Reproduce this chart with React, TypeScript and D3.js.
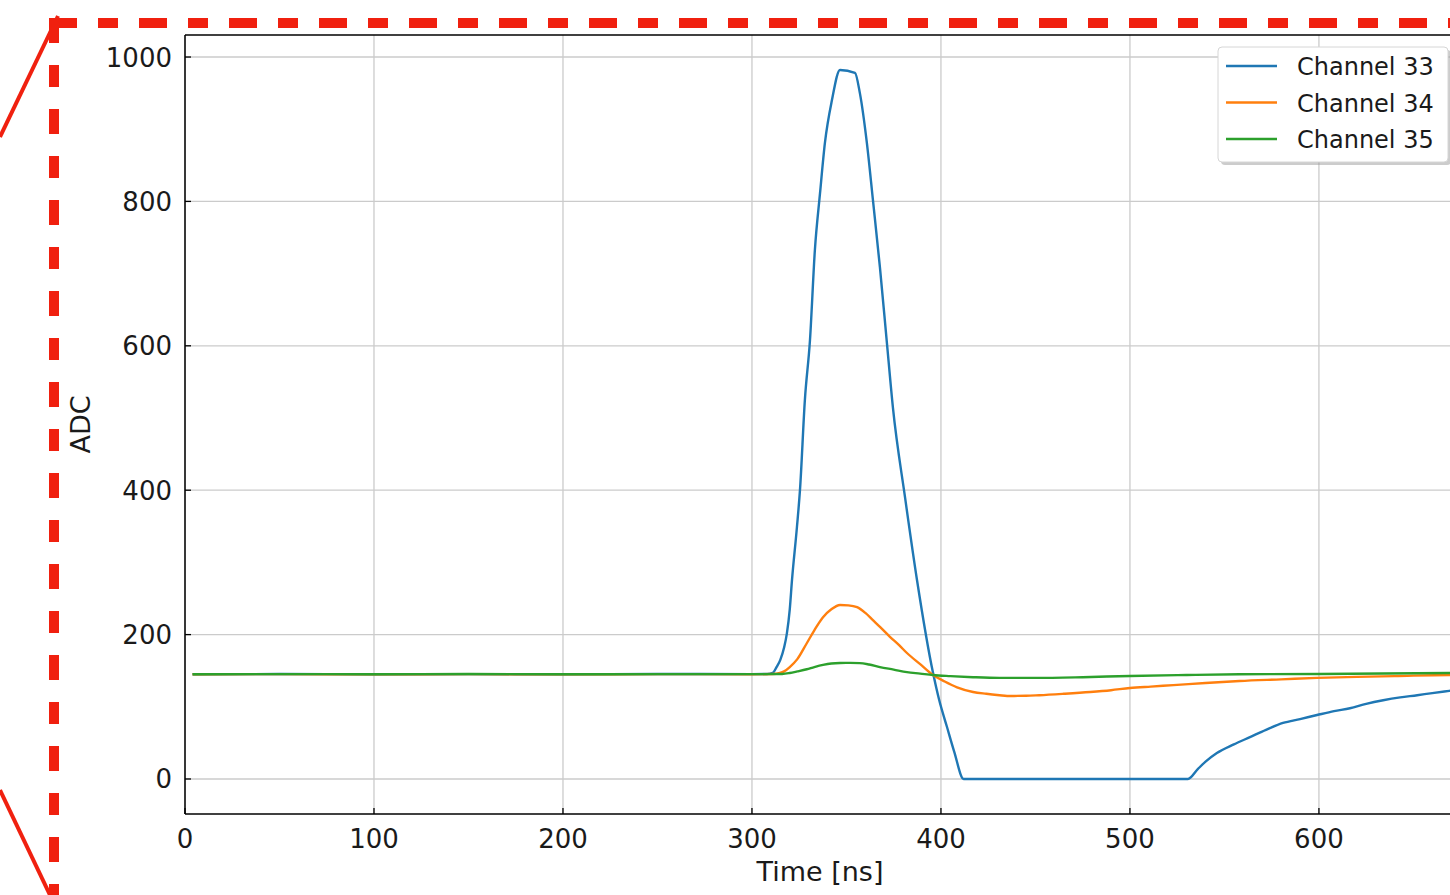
import React from 'react';
import * as d3 from 'd3';

// readings of the three waveforms, [time ns, ADC]
const channel33 = [
  [4, 145], [50, 145.4], [100, 145], [150, 145.3], [200, 145], [250, 145.4], [300, 145.2], [308, 145.5],
  [311, 147], [313, 155], [315, 165], [317, 182], [318.5, 202], [320, 235], [321.2, 276], [323.8, 349],
  [325.4, 400], [328, 525], [330.7, 608], [333.3, 733], [336, 811], [338.6, 881], [342.3, 940],
  [346.6, 982], [354.5, 978], [357.1, 950], [360.8, 881], [364, 802], [367.7, 709], [371.4, 604],
  [374.6, 514], [381, 390], [387.3, 276], [395.8, 147], [399, 110], [403.2, 72], [407, 38], [412, 0],
  [530.7, 0], [536, 14], [540, 24], [546, 36], [555, 48], [563.5, 58], [572, 68], [581, 77.6], [590, 83],
  [599, 88.6], [608, 94], [616.4, 98], [625, 104], [634, 109], [643, 113], [652, 116], [660, 119],
  [669, 122], [672, 123],
];

const channel34 = [
  [4, 145], [50, 145.3], [100, 145], [150, 145.2], [200, 145], [250, 145.3], [300, 145.1],
  [311, 145.4], [314.8, 146.8], [317, 149], [320, 155], [324, 166], [329, 188], [333, 206],
  [337.6, 224], [342, 235], [346.6, 241], [351, 240.5], [355.6, 238], [360, 230], [364, 220],
  [368, 210], [373, 197], [378, 185], [382, 174.5], [389, 159], [395.8, 144], [402, 135],
  [408.5, 127], [417, 120.5], [424, 118], [431, 116], [435, 115], [445, 115.2], [452, 116],
  [465, 118], [479, 120.5], [490, 123], [500, 126], [511, 128], [523, 130], [540, 133],
  [558, 135.7], [580, 138], [599, 140], [620, 141.5], [640, 142.5], [669, 144], [672, 144],
];

const channel35 = [
  [4, 145], [50, 145.3], [100, 145.1], [150, 145.4], [200, 145], [250, 145.3], [300, 145.2],
  [316, 145.5], [320, 146.8], [324, 149], [329, 152], [333, 155], [337.6, 158], [342, 160],
  [346.6, 160.7], [352, 160.8], [357, 160.5], [362, 158.5], [367.7, 155], [375, 151.5],
  [382, 148], [389, 146], [395.8, 144], [405, 142.5], [417, 141], [431, 140], [450, 140],
  [475, 141], [500, 142.7], [530, 144], [558, 145], [600, 145.5], [669, 146.8], [672, 147],
];

const seriesNames = ['Channel 33', 'Channel 34', 'Channel 35'];
const seriesData = [channel33, channel34, channel35];
const colors = ['#1f77b4', '#ff7f0e', '#2ca02c'];
const xTicks = [0, 100, 200, 300, 400, 500, 600];
const yTicks = [0, 200, 400, 600, 800, 1000];

const W = 1450;
const H = 895;
const left = 185;
const right = 1455;
const top = 35;
const bottom = 814;
const font = 'DejaVu Sans, sans-serif';
const red = '#f0200f';

export default function App() {
  const x = d3.scaleLinear().domain([0, 672]).range([left, right]);
  const y = d3.scaleLinear().domain([-48.5, 1030.5]).range([bottom, top]);
  const line = d3.line<number[]>()
    .curve(d3.curveMonotoneX)
    .x(d => x(d[0]))
    .y(d => y(d[1]));

  return (
    <svg width={W} height={H} style={{ position: 'absolute', left: 0, top: 0, display: 'block', background: '#fff' }}>
      <defs>
        <clipPath id="plot">
          <rect x={left} y={top} width={right - left} height={bottom - top} />
        </clipPath>
      </defs>

      {/* grid */}
      <g stroke="#cbcbcb" strokeWidth={1.3}>
        {xTicks.map(t => <line key={'gx' + t} x1={x(t)} x2={x(t)} y1={top} y2={bottom} />)}
        {yTicks.map(t => <line key={'gy' + t} x1={left} x2={right} y1={y(t)} y2={y(t)} />)}
      </g>

      {/* series */}
      <g clipPath="url(#plot)" fill="none" strokeWidth={2.4} strokeLinejoin="round">
        {seriesData.map((s, i) => <path key={i} d={line(s) || ''} stroke={colors[i]} />)}
      </g>

      {/* spines */}
      <g stroke="#000" strokeWidth={1.5} fill="none">
        <line x1={left} x2={left} y1={top} y2={bottom} />
        <line x1={left} x2={right} y1={bottom} y2={bottom} />
        <line x1={left} x2={right} y1={top} y2={top} />
      </g>

      {/* ticks */}
      <g stroke="#000" strokeWidth={1.3}>
        {xTicks.map(t => <line key={'tx' + t} x1={x(t)} x2={x(t)} y1={bottom} y2={bottom - 6} />)}
        {yTicks.map(t => <line key={'ty' + t} x1={left} x2={left + 6} y1={y(t)} y2={y(t)} />)}
      </g>

      <g fontFamily={font} fontSize={26} fill="#1a1a1a">
        {xTicks.map(t => (
          <text key={'lx' + t} x={x(t)} y={bottom + 34} textAnchor="middle">{t}</text>
        ))}
        {yTicks.map(t => (
          <text key={'ly' + t} x={left - 13} y={y(t) + 9.5} textAnchor="end">{t}</text>
        ))}
      </g>

      <text x={(left + right) / 2} y={881} textAnchor="middle" fontFamily={font} fontSize={27} fill="#1a1a1a">Time [ns]</text>
      <text transform={`translate(90, ${(top + bottom) / 2}) rotate(-90)`} textAnchor="middle" fontFamily={font} fontSize={27} fill="#1a1a1a">ADC</text>

      {/* legend */}
      <g>
        <rect x={1221} y={50} width={230} height={115} rx={4} fill="#9a9a9a" opacity={0.5} />
        <rect x={1218} y={47} width={230} height={115} rx={4} fill="#fff" stroke="#d6d6d6" strokeWidth={1} />
        {seriesNames.map((n, i) => (
          <g key={n}>
            <line x1={1226} x2={1277} y1={66 + i * 36.5} y2={66 + i * 36.5} stroke={colors[i]} strokeWidth={2.4} />
            <text x={1297} y={75 + i * 36.5} fontFamily={font} fontSize={24} fill="#1a1a1a">{n}</text>
          </g>
        ))}
      </g>

      {/* zoom callout frame */}
      <g stroke={red} fill="none">
        <line x1={0} y1={137} x2={58} y2={16} strokeWidth={4} />
        <line x1={0} y1={790} x2={50} y2={895} strokeWidth={4} />
        <line x1={49} y1={23} x2={W} y2={23} strokeWidth={10} strokeDasharray="28 21 20 21" />
        <line x1={54} y1={18} x2={54} y2={H} strokeWidth={10} strokeDasharray="25 22 22 22" />
      </g>
    </svg>
  );
}
